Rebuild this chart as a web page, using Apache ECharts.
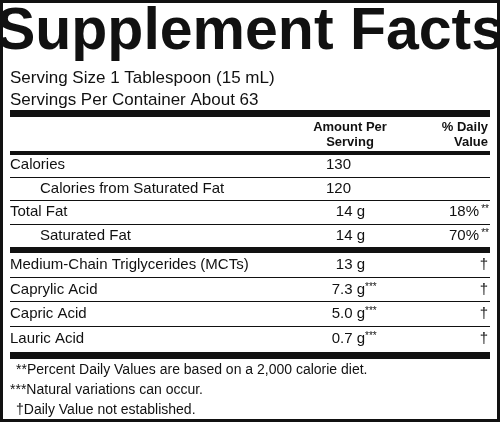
<!DOCTYPE html>
<html>
<head>
<meta charset="utf-8">
<script src="https://cdn.jsdelivr.net/npm/echarts@6/dist/echarts.min.js"></script>
<style>
  html, body { margin: 0; padding: 0; background: #fff; }
  #label { width: 500px; height: 422px; }
</style>
</head>
<body>
<div id="label"></div>
<script>
// label contents
var title = 'Supplement Facts';
var servingLines = ['Serving Size 1 Tablespoon (15 mL)', 'Servings Per Container About 63'];
var rowNames = ['Calories', 'Calories from Saturated Fat', 'Total Fat', 'Saturated Fat',
    'Medium-Chain Triglycerides (MCTs)', 'Caprylic Acid', 'Capric Acid', 'Lauric Acid'];
var amounts = ['130', '120', '14 g', '14 g', '13 g', '7.3 g', '5.0 g', '0.7 g'];
var amountMarks = ['', '', '', '', '', '***', '***', '***'];
var dailyValues = ['', '', '18%', '70%', '†', '†', '†', '†'];
var dailyMarks = ['', '', '**', '**', '', '', '', ''];
var subRows = ['Calories from Saturated Fat', 'Saturated Fat'];
var footnotes = ['**Percent Daily Values are based on a 2,000 calorie diet.',
    '***Natural variations can occur.', '†Daily Value not established.'];

var chart = echarts.init(document.getElementById('label'));
var FONT = '"Liberation Sans", Arial, sans-serif';
var L = 10, R = 490;
var els = [];

function text(x, y, s, size, opts) {
    opts = opts || {};
    els.push({
        type: 'text', x: x, y: y,
        style: {
            text: s, font: (opts.bold ? 'bold ' : '') + size + 'px ' + FONT,
            fill: '#111', textAlign: opts.align || 'left', textVerticalAlign: 'middle'
        }
    });
}
function bar(y, h) {
    els.push({ type: 'rect', shape: { x: L, y: y, width: R - L, height: h }, style: { fill: '#111' } });
}

// outer frame
els.push({ type: 'rect', shape: { x: 1.5, y: 1.5, width: 497, height: 419 },
    style: { fill: 'none', stroke: '#111', lineWidth: 3 } });

text(250, 33, title, 59, { bold: true, align: 'center' });
text(L, 78, servingLines[0], 17);
text(L, 100, servingLines[1], 17);
bar(110, 7);
text(350, 127, 'Amount Per', 13, { bold: true, align: 'center' });
text(350, 142, 'Serving', 13, { bold: true, align: 'center' });
text(488, 127, '% Daily', 13, { bold: true, align: 'right' });
text(488, 142, 'Value', 13, { bold: true, align: 'right' });
bar(151, 4);

var rowY = [165, 189, 212, 236, 265, 290, 314, 339];
var lineAfter = [177, 200, 224, null, 277, 301, 326, null];
for (var i = 0; i < rowNames.length; i++) {
    var y = rowY[i];
    var x = subRows.indexOf(rowNames[i]) >= 0 ? 40 : L;
    text(x, y, rowNames[i], 15);
    text(i < 2 ? 351 : 365, y, amounts[i], 15, { align: 'right' });
    if (amountMarks[i]) text(365, y - 3, amountMarks[i], 10);
    if (dailyMarks[i]) {
        text(489, y - 3, dailyMarks[i], 10, { align: 'right' });
        text(479, y, dailyValues[i], 15, { align: 'right' });
    } else if (dailyValues[i]) {
        text(488, y, dailyValues[i], 15, { align: 'right' });
    }
    if (lineAfter[i]) bar(lineAfter[i], 1);
}
bar(247, 6);
bar(352, 7);

text(16, 370, footnotes[0], 14);
text(L, 390, footnotes[1], 14);
text(16, 410, footnotes[2], 14);

chart.setOption({ animation: false, graphic: { elements: els } });
</script>
</body>
</html>
